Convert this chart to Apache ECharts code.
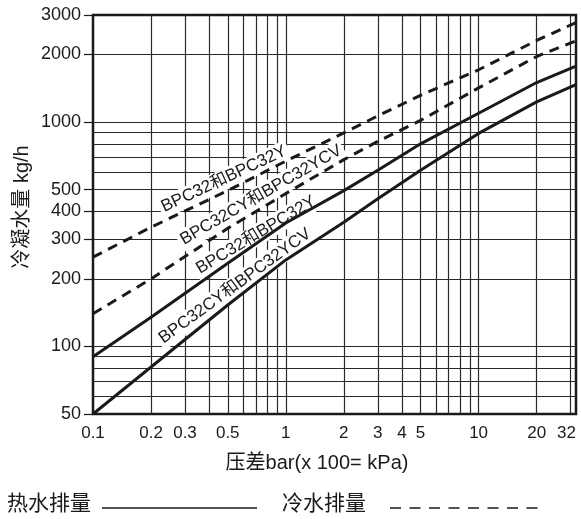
<!DOCTYPE html>
<html>
<head>
<meta charset="utf-8">
<script src="https://cdn.jsdelivr.net/npm/echarts@6/dist/echarts.min.js"></script>
<style>
  html, body { margin: 0; padding: 0; background: #fff; }
  #chart { width: 581px; height: 519px; }
</style>
</head>
<body>
<div id="chart"></div>
<script>
// 压差 (bar)
const pressure = [0.1, 0.2, 0.5, 1, 2, 3, 5, 10, 20, 32]
// 热水排量 kg/h
const hotStd = [90, 135, 235, 355, 495, 610, 800, 1095, 1500, 1775]   // BPC32和BPC32Y
const hotCv = [50, 81, 153, 243, 358, 455, 610, 890, 1230, 1470]      // BPC32CY和BPC32YCV
// 冷水排量 kg/h
const coldStd = [250, 340, 495, 670, 895, 1065, 1316, 1710, 2310, 2775]
const coldCv = [140, 200, 336, 480, 680, 820, 1017, 1420, 1960, 2300]

const xTicks = [0.1, 0.2, 0.3, 0.5, 1, 2, 3, 4, 5, 10, 20, 32]
const yTicks = [50, 100, 200, 300, 400, 500, 1000, 2000, 3000]
const xGrid = [0.2, 0.3, 0.4, 0.5, 0.6, 0.7, 0.8, 0.9, 1, 2, 3, 4, 5, 6, 7, 8, 9, 10, 20, 30]
const yGrid = [60, 70, 80, 90, 100, 200, 300, 400, 500, 600, 700, 800, 900, 1000, 2000]

const FONT = "'Liberation Sans', 'Noto Sans CJK SC', sans-serif"
const INK = '#1a1a1a'
const TAG_FONT = '17px ' + FONT

const pairs = ys => pressure.map((x, i) => [x, ys[i]])

function curve(name, ys, dashed) {
  return {
    name,
    type: 'line',
    z: 5,
    data: pairs(ys),
    smooth: false,
    showSymbol: false,
    silent: true,
    lineStyle: { color: INK, width: 3, type: dashed ? [10, 7] : 'solid', join: 'round' }
  }
}

// 量文字宽度
const ctx = document.createElement('canvas').getContext('2d')
function textWidth(text, font) {
  ctx.font = font
  return ctx.measureText(text).width
}

// 曲线上的标注文字 (白底遮住网格线)
function tag(text, x, y, deg) {
  const w = textWidth(text, TAG_FONT) + 6
  return {
    type: 'group',
    x, y,
    rotation: deg * Math.PI / 180,
    children: [
      {
        type: 'rect', z: 3,
        shape: { x: -w / 2, y: -10, width: w, height: 21 },
        style: { fill: '#fff' }
      },
      {
        type: 'text', z: 4,
        style: { text, font: TAG_FONT, fill: INK, align: 'center', verticalAlign: 'middle' }
      }
    ]
  }
}

const chart = echarts.init(document.getElementById('chart'))

chart.setOption({
  animation: false,
  backgroundColor: '#fff',
  textStyle: { fontFamily: FONT },
  grid: {
    left: 93, top: 15, width: 483, height: 399,
    show: true, borderColor: INK, borderWidth: 2.5
  },
  xAxis: {
    type: 'log', logBase: 10, min: 0.1, max: 32,
    axisLine: { show: false },
    axisTick: { show: false },
    splitLine: { show: false },
    axisLabel: {
      customValues: xTicks,
      margin: 11,
      fontSize: 17,
      color: INK,
      alignMaxLabel: 'right',
      formatter: v => String(v)
    }
  },
  yAxis: {
    type: 'log', logBase: 10, min: 50, max: 3000,
    axisLine: { show: false },
    axisTick: {
      show: true, customValues: yTicks, length: 9,
      lineStyle: { color: INK, width: 1.2 }
    },
    splitLine: { show: false },
    axisLabel: {
      customValues: yTicks, margin: 12, fontSize: 18, color: INK,
      formatter: v => String(v)
    }
  },
  graphic: [
    tag('BPC32和BPC32Y', 224, 179, 25),
    tag('BPC32CY和BPC32YCV', 261, 195, 30),
    tag('BPC32和BPC32Y', 256, 235, 31),
    tag('BPC32CY和BPC32YCV', 235, 286, 36),
    {
      type: 'text', x: 22, y: 207, rotation: Math.PI / 2, z: 3,
      style: { text: '冷凝水量 kg/h', font: '20px ' + FONT, fill: INK, align: 'center', verticalAlign: 'middle' }
    },
    {
      type: 'text', x: 317, y: 463, z: 3,
      style: { text: '压差bar(x 100= kPa)', font: '20px ' + FONT, fill: INK, align: 'center', verticalAlign: 'middle' }
    },
    // 图例
    {
      type: 'text', x: 7, y: 504, z: 3,
      style: { text: '热水排量', font: '21px ' + FONT, fill: INK, align: 'left', verticalAlign: 'middle' }
    },
    {
      type: 'line', z: 3,
      shape: { x1: 102, y1: 508, x2: 257, y2: 508 },
      style: { stroke: INK, lineWidth: 1.3 }
    },
    {
      type: 'text', x: 282, y: 504, z: 3,
      style: { text: '冷水排量', font: '21px ' + FONT, fill: INK, align: 'left', verticalAlign: 'middle' }
    },
    {
      type: 'line', z: 3,
      shape: { x1: 390, y1: 508, x2: 545, y2: 508 },
      style: { stroke: INK, lineWidth: 1.3, lineDash: [11, 8.5] }
    }
  ],
  series: [
    {
      name: 'grid',
      type: 'line',
      z: 1,
      data: [],
      silent: true,
      markLine: {
        z: 1,
        silent: true,
        symbol: ['none', 'none'],
        label: { show: false },
        emphasis: { disabled: true },
        lineStyle: { color: '#2a2a2a', width: 1.2, type: 'solid' },
        data: xGrid.map(v => ({ xAxis: v })).concat(yGrid.map(v => ({ yAxis: v })))
      }
    },
    curve('热水 BPC32和BPC32Y', hotStd, false),
    curve('热水 BPC32CY和BPC32YCV', hotCv, false),
    curve('冷水 BPC32和BPC32Y', coldStd, true),
    curve('冷水 BPC32CY和BPC32YCV', coldCv, true)
  ]
})
</script>
</body>
</html>
